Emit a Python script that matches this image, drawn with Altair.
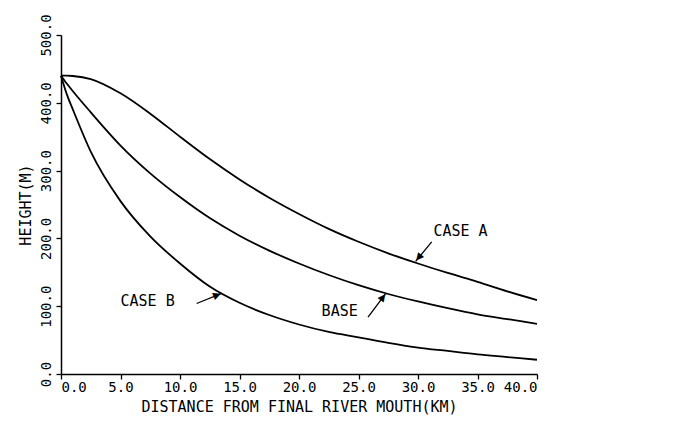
import math
import altair as alt
import pandas as pd

# ---- data ----
km = [0, 0.5, 1, 2.5, 5, 7.5, 10, 12.5, 15, 17.5, 20, 22.5, 25, 27.5, 30, 32.5, 35, 37.5, 40]
case_a = [440, 440, 439.5, 435, 414, 384, 350, 317, 287, 260, 236, 214, 195, 178, 163, 149, 136, 122, 109]
base = [440, 428, 417, 386, 337, 296, 261, 230, 204, 182, 163, 146, 131, 118, 107, 97, 88, 81, 74]
case_b = [440, 412, 390, 328, 255, 203, 163, 129, 105, 87, 73, 62, 54, 46, 39, 34, 29, 25, 21]

label_text = ["CASE A", "BASE", "CASE B"]
label_x = [31.3, 21.9, 5.0]
label_y = [211, 93, 108]
arrow_x1 = [31.15, 25.8, 11.4]
arrow_y1 = [195, 84, 104]
arrow_x2 = [29.8, 27.3, 13.5]
arrow_y2 = [166, 119, 119]

x_ticks = [0, 5, 10, 15, 20, 25, 30, 35, 40]
y_ticks = [0, 100, 200, 300, 400, 500]

W, H = 476, 339
XMAX, YMAX = 40, 500
FONT = "DejaVu Sans Mono"

rows = []
for name, vals in [("CASE A", case_a), ("BASE", base), ("CASE B", case_b)]:
    for k, v in zip(km, vals):
        rows.append({"series": name, "km": k, "h": v})
df = pd.DataFrame(rows)

ann = pd.DataFrame({
    "text": label_text, "lx": label_x, "ly": label_y,
    "x1": arrow_x1, "y1": arrow_y1, "x2": arrow_x2, "y2": arrow_y2,
})

xscale = alt.Scale(domain=[0, XMAX], nice=False, zero=False)
yscale = alt.Scale(domain=[0, YMAX], nice=False)

lines = alt.Chart(df).mark_line(color="black", strokeWidth=1.8, interpolate="monotone").encode(
    x=alt.X("km:Q", scale=xscale,
            axis=alt.Axis(title="DISTANCE FROM FINAL RIVER MOUTH(KM)", values=x_ticks, format=".1f",
                          grid=False, tickSize=5, labelPadding=1, titlePadding=5)),
    y=alt.Y("h:Q", scale=yscale,
            axis=alt.Axis(title="HEIGHT(M)", values=y_ticks, format=".1f", grid=False,
                          tickSize=5, labelAngle=-90, labelAlign="center", labelBaseline="bottom",
                          labelPadding=3, titlePadding=6)),
    detail="series:N",
)

texts = alt.Chart(ann).mark_text(align="left", baseline="middle", font=FONT, fontSize=15,
                                 color="black").encode(
    x=alt.X("lx:Q", scale=xscale), y=alt.Y("ly:Q", scale=yscale), text="text:N")

shafts = alt.Chart(ann).mark_rule(color="black", strokeWidth=1.3).encode(
    x=alt.X("x1:Q", scale=xscale), y=alt.Y("y1:Q", scale=yscale),
    x2="x2:Q", y2="y2:Q")

# arrow heads: a rotated triangle glyph placed just behind each tip
heads = []
for x1, y1, x2, y2 in zip(arrow_x1, arrow_y1, arrow_x2, arrow_y2):
    dx = (x2 - x1) * W / XMAX
    dy = -(y2 - y1) * H / YMAX
    length = math.hypot(dx, dy)
    ang = math.degrees(math.atan2(dx, -dy)) % 360
    t = 1 - 4.5 / length
    hx = x1 + (x2 - x1) * t
    hy = y1 + (y2 - y1) * t
    hd = pd.DataFrame({"hx": [hx], "hy": [hy]})
    heads.append(
        alt.Chart(hd).mark_text(text="▲", font="DejaVu Sans", fontSize=10, angle=ang,
                                align="center", baseline="middle", color="black").encode(
            x=alt.X("hx:Q", scale=xscale), y=alt.Y("hy:Q", scale=yscale))
    )

chart = alt.layer(lines, shafts, *heads, texts).properties(
    width=W, height=H,
    autosize=alt.AutoSizeParams(type="none"),
    padding={"left": 53, "top": 27, "right": 30, "bottom": 45},
    background="white",
).configure_view(stroke=None).configure_axis(
    domainColor="black", tickColor="black", labelColor="black", titleColor="black",
    labelFont=FONT, titleFont=FONT, labelFontSize=14, titleFontSize=15,
    titleFontWeight="normal", domainWidth=1.5, tickWidth=1.3,
)

chart.save("out.html", embed_options={"renderer": "svg", "actions": False})
